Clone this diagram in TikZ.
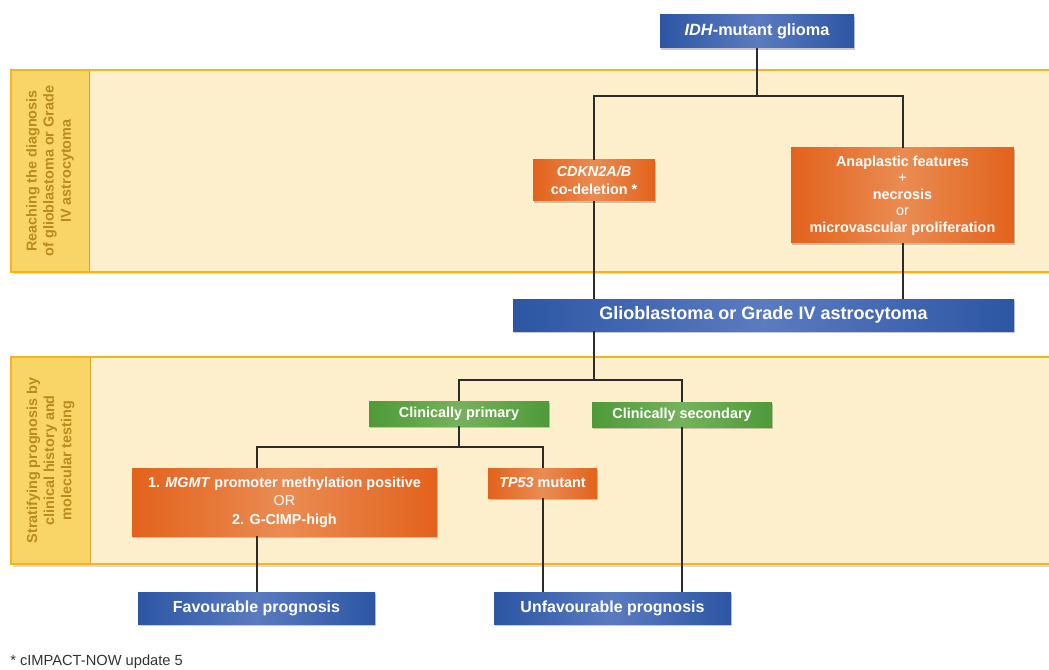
\documentclass[tikz,border=0pt]{standalone}
\usepackage{fontspec}
\setmainfont{Liberation Sans}
\usetikzlibrary{shadows}
\definecolor{bandedge}{HTML}{F4B519}
\definecolor{bandbody}{HTML}{FDEFCB}
\definecolor{bandlab}{HTML}{F9D467}
\definecolor{labtext}{HTML}{B88C1E}
\definecolor{blueE}{HTML}{2C56A3}
\definecolor{blueM}{HTML}{5B7BC0}
\definecolor{orE}{HTML}{E2621C}
\definecolor{orM}{HTML}{EA8C52}
\definecolor{grE}{HTML}{4E9A38}
\definecolor{grM}{HTML}{76B25C}
\definecolor{linecol}{HTML}{2B2B2B}
\begin{document}
\begin{tikzpicture}[x=0.75pt,y=-0.75pt,
  box/.style 2 args={minimum width=#1*0.75pt, minimum height=#2*0.75pt, inner sep=0pt,
    align=center, text=white,
    drop shadow={shadow xshift=0.8pt, shadow yshift=-1.2pt, opacity=0.35, fill=black!60}},
  bluebox/.style={left color=blueE, right color=blueE, middle color=blueM},
  orbox/.style={left color=orE, right color=orE, middle color=orM},
  grbox/.style={left color=grE, right color=grE, middle color=grM},
  fmid/.style={font=\bfseries\fontsize{10.8pt}{13.3pt}\selectfont},
  conn/.style={draw=linecol, line width=1.5pt},
  bandlabel/.style={rotate=90, align=center, text=labtext, font=\bfseries\fontsize{10.8pt}{12.8pt}\selectfont}
]
\useasboundingbox (0,0) rectangle (1049,670);
% bands
\foreach \t/\b/\l in {70/272/89, 357/564/90}{
  \fill[black!14] (13,\b) rectangle (1049,\b+2.5);
  \fill[bandbody] (11,\t) rectangle (1049,\b);
  \fill[bandlab] (11,\t) rectangle (\l,\b);
  \draw[bandedge!85!black!90, line width=0.6pt] (\l,\t) -- (\l,\b);
  \draw[bandedge, line width=1.2pt] (1049,\t) -- (11,\t) -- (11,\b) -- (1049,\b);
}
\node[bandlabel] (lab1) at (50,171) {Reaching the diagnosis\\of glioblastoma or Grade\\IV astrocytoma};
\node[bandlabel] (lab2) at (50.5,460.5) {Stratifying prognosis by\\clinical history and\\molecular testing};

% nodes
\node[box={194}{33}, bluebox, font=\bfseries\fontsize{12.2pt}{14pt}\selectfont] (idh) at (757,31.5) {\textit{IDH}-mutant glioma};
\node[box={122}{41}, orbox, fmid] (cdkn) at (594,180.5) {\textit{CDKN2A/B}\\co-deletion *};
\node[box={223}{95}, orbox, font=\fontsize{10.8pt}{12.4pt}\selectfont] (ana) at (902.5,195.5)
  {\textbf{Anaplastic features}\\+\\\textbf{necrosis}\\or\\\textbf{microvascular proliferation}};
\node[box={501}{32}, bluebox, font=\bfseries\fontsize{13.5pt}{16pt}\selectfont] (glio) at (763.5,315) {Glioblastoma or Grade IV astrocytoma};
\node[box={180}{25}, grbox, fmid] (cp) at (459,413.5) {Clinically primary};
\node[box={180}{25}, grbox, fmid] (cs) at (682,414.5) {Clinically secondary};
\node[box={305}{68}, orbox, font=\fontsize{10.8pt}{14pt}\selectfont] (mgmt) at (284.5,502)
  {\textbf{1. \textit{MGMT} promoter methylation positive}\\OR\\\textbf{2. G-CIMP-high}};
\node[box={109}{30}, orbox, fmid] (tp) at (542.5,483) {\textit{TP53} mutant};
\node[box={237}{32}, bluebox, font=\bfseries\fontsize{12pt}{14pt}\selectfont] (fav) at (256.5,608) {Favourable prognosis};
\node[box={237}{32}, bluebox, font=\bfseries\fontsize{12pt}{14pt}\selectfont] (unf) at (612.5,608) {Unfavourable prognosis};
\node[anchor=base west, inner sep=0pt, text=black!80, font=\fontsize{11pt}{13pt}\selectfont] (note) at (10,665) {* cIMPACT-NOW update 5};

% junctions
\coordinate (j1) at (757,96);
\coordinate (j2) at (594,380);
\coordinate (j3) at (459,447);

% connectors
\draw[conn] (idh.south) -- (j1);
\draw[conn] (cdkn.north) |- (j1) -| (ana.north);
\draw[conn] (cdkn.south) -- (cdkn.south |- glio.north);
\draw[conn] (ana.south) -- (ana.south |- glio.north);
\draw[conn] (glio.south -| j2) -- (j2);
\draw[conn] (cp.north) |- (j2) -| (cs.north);
\draw[conn] (cp.south) -- (j3);
\draw[conn] (fav.north |- mgmt.north) |- (j3) -| (tp.north);
\draw[conn] (fav.north |- mgmt.south) -- (fav.north);
\draw[conn] (tp.south) -- (tp.south |- unf.north);
\draw[conn] (cs.south) -- (cs.south |- unf.north);
\end{tikzpicture}
\end{document}
